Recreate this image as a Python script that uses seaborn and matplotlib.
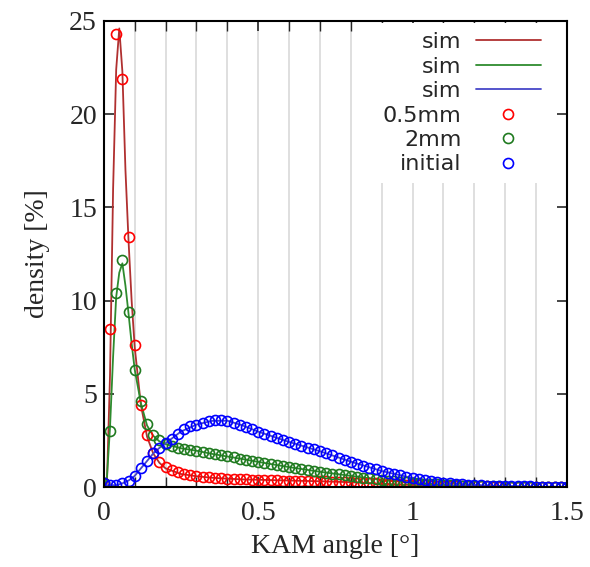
import numpy as np
import matplotlib
matplotlib.use("Agg")
import matplotlib.pyplot as plt
import seaborn as sns

# KAM angle grid for the measured points (every 0.02 deg)
angle_exp = np.round(np.arange(0, 1.501, 0.02), 2)

dens_05mm = [0.2, 8.5, 24.3, 21.9, 13.4, 7.6, 4.4, 2.8, 1.8, 1.35,
             1.05, 0.9, 0.8, 0.72, 0.66, 0.6, 0.56, 0.52, 0.5, 0.47,
             0.45, 0.43, 0.42, 0.41, 0.4, 0.39, 0.38, 0.37, 0.36, 0.35,
             0.35, 0.34, 0.33, 0.33, 0.32, 0.31, 0.3, 0.29, 0.28, 0.27,
             0.26, 0.24, 0.23, 0.21, 0.2, 0.18, 0.17, 0.15, 0.14, 0.12,
             0.11, 0.1, 0.09, 0.08, 0.07, 0.06, 0.05, 0.05, 0.04, 0.04,
             0.03, 0.03, 0.03, 0.02, 0.02, 0.02, 0.02, 0.01, 0.01, 0.01,
             0.01, 0.01, 0.01, 0.0, 0.0, 0.0]

dens_2mm = [0.2, 3.0, 10.4, 12.2, 9.4, 6.3, 4.6, 3.4, 2.8, 2.5,
            2.3, 2.2, 2.1, 2.05, 2.0, 1.95, 1.88, 1.82, 1.76, 1.7,
            1.65, 1.6, 1.53, 1.47, 1.41, 1.35, 1.3, 1.24, 1.18, 1.12,
            1.07, 1.02, 0.97, 0.92, 0.87, 0.82, 0.77, 0.72, 0.68, 0.64,
            0.6, 0.55, 0.51, 0.47, 0.43, 0.39, 0.35, 0.32, 0.29, 0.26,
            0.23, 0.2, 0.18, 0.16, 0.14, 0.12, 0.1, 0.09, 0.07, 0.06,
            0.05, 0.04, 0.04, 0.03, 0.03, 0.02, 0.02, 0.02, 0.01, 0.01,
            0.01, 0.01, 0.0, 0.0, 0.0, 0.0]

dens_initial = [0.2, 0.1, 0.1, 0.2, 0.35, 0.6, 1.0, 1.4, 1.8, 2.1,
                2.35, 2.6, 2.85, 3.1, 3.25, 3.35, 3.45, 3.52, 3.58, 3.6,
                3.55, 3.45, 3.35, 3.24, 3.1, 2.97, 2.85, 2.74, 2.62, 2.52,
                2.42, 2.32, 2.22, 2.12, 2.02, 1.92, 1.82, 1.7, 1.58, 1.47,
                1.36, 1.25, 1.14, 1.04, 0.95, 0.86, 0.77, 0.69, 0.62, 0.55,
                0.48, 0.42, 0.37, 0.32, 0.28, 0.24, 0.21, 0.18, 0.15, 0.13,
                0.11, 0.09, 0.08, 0.07, 0.06, 0.05, 0.04, 0.04, 0.03, 0.03,
                0.02, 0.02, 0.02, 0.01, 0.01, 0.01]

# simulated curves
angle_sim = [0, 0.01, 0.02, 0.03, 0.04, 0.05, 0.06, 0.07, 0.08, 0.09,
             0.10, 0.12, 0.14, 0.16, 0.18, 0.2, 0.25, 0.3, 0.35, 0.4,
             0.45, 0.5, 0.6, 0.7, 0.8, 0.9, 1.0, 1.1, 1.2, 1.3, 1.4, 1.5]

sim_05mm = [0.0, 0.2, 6.0, 16.0, 22.4, 24.6, 22.3, 17.0, 13.2, 10.0,
            7.5, 4.4, 2.7, 1.8, 1.3, 1.0, 0.7, 0.58, 0.5, 0.45,
            0.41, 0.39, 0.35, 0.31, 0.26, 0.18, 0.11, 0.06, 0.03, 0.02, 0.01, 0.0]

sim_2mm = [0.0, 0.5, 3.2, 7.0, 10.2, 11.5, 12.0, 10.8, 9.3, 7.7,
           6.3, 4.5, 3.3, 2.75, 2.45, 2.3, 2.08, 1.95, 1.78, 1.64,
           1.5, 1.35, 1.07, 0.82, 0.6, 0.39, 0.23, 0.12, 0.05, 0.02, 0.01, 0.0]

sim_initial = [0.1, 0.1, 0.1, 0.1, 0.1, 0.15, 0.2, 0.27, 0.35, 0.47,
               0.6, 1.0, 1.4, 1.8, 2.1, 2.35, 2.98, 3.35, 3.55, 3.56,
               3.3, 2.97, 2.42, 1.92, 1.36, 0.86, 0.48, 0.24, 0.11, 0.05, 0.02, 0.01]

sim_colors = ["#b03030", "#2e8b2e", "#4646c8"]
exp_colors = ["#ff0000", "#1f7a1f", "#0000ff"]

sns.set_style("ticks")
plt.rcParams["font.family"] = ["Liberation Serif", "DejaVu Serif"]

fig = plt.figure(figsize=(5.9, 5.67), dpi=100)
ax = fig.add_axes([0.176, 0.141, 0.785, 0.822])

for xv in np.arange(0.1, 1.45, 0.1):
    ax.axvline(xv, color="#dcdcdc", lw=1.3, zorder=0)

for yv, c in zip([sim_05mm, sim_2mm, sim_initial], sim_colors):
    sns.lineplot(x=angle_sim, y=yv, ax=ax, color=c, lw=1.3, label="sim",
                 sort=False, estimator=None)

for yv, c, lab in zip([dens_05mm, dens_2mm, dens_initial], exp_colors,
                      ["0.5mm", "2mm", "initial"]):
    sns.lineplot(x=angle_exp, y=yv, ax=ax, color=c, linestyle="none",
                 marker="o", markersize=7.2, markerfacecolor="none",
                 markeredgecolor=c, markeredgewidth=1.2, label=lab,
                 sort=False, estimator=None)

ax.set_xlim(0, 1.5)
ax.set_ylim(0, 25)
ax.set_xticks([0, 0.5, 1, 1.5])
ax.set_xticklabels(["0", "0.5", "1", "1.5"])
ax.set_xticks(np.arange(0, 1.51, 0.1), minor=True)
ax.set_yticks([0, 5, 10, 15, 20, 25])
ax.tick_params(axis="both", which="both", direction="in", top=True,
               right=True, labelsize=20)
ax.tick_params(axis="y", pad=5)
ax.tick_params(axis="x", pad=10)
ax.tick_params(which="major", length=7, width=1.2)
ax.tick_params(which="minor", length=7, width=1.0)
for sp in ax.spines.values():
    sp.set_linewidth(1.5)
    sp.set_color("black")

ax.set_xlabel("KAM angle [°]", fontsize=20, labelpad=6)
ax.set_ylabel("density [%]", fontsize=20, labelpad=14)

leg = ax.legend(loc="upper right", bbox_to_anchor=(0.962, 0.995),
                borderaxespad=0, markerfirst=False, frameon=True,
                handlelength=2.9, labelspacing=0.2, handletextpad=0.65,
                prop={"family": "DejaVu Sans", "size": 16})
leg.get_frame().set_facecolor("white")
leg.get_frame().set_edgecolor("none")
leg.get_frame().set_alpha(1)
for t in leg.get_texts():
    t.set_ha("right")

fig.savefig("out.png", dpi=100)
